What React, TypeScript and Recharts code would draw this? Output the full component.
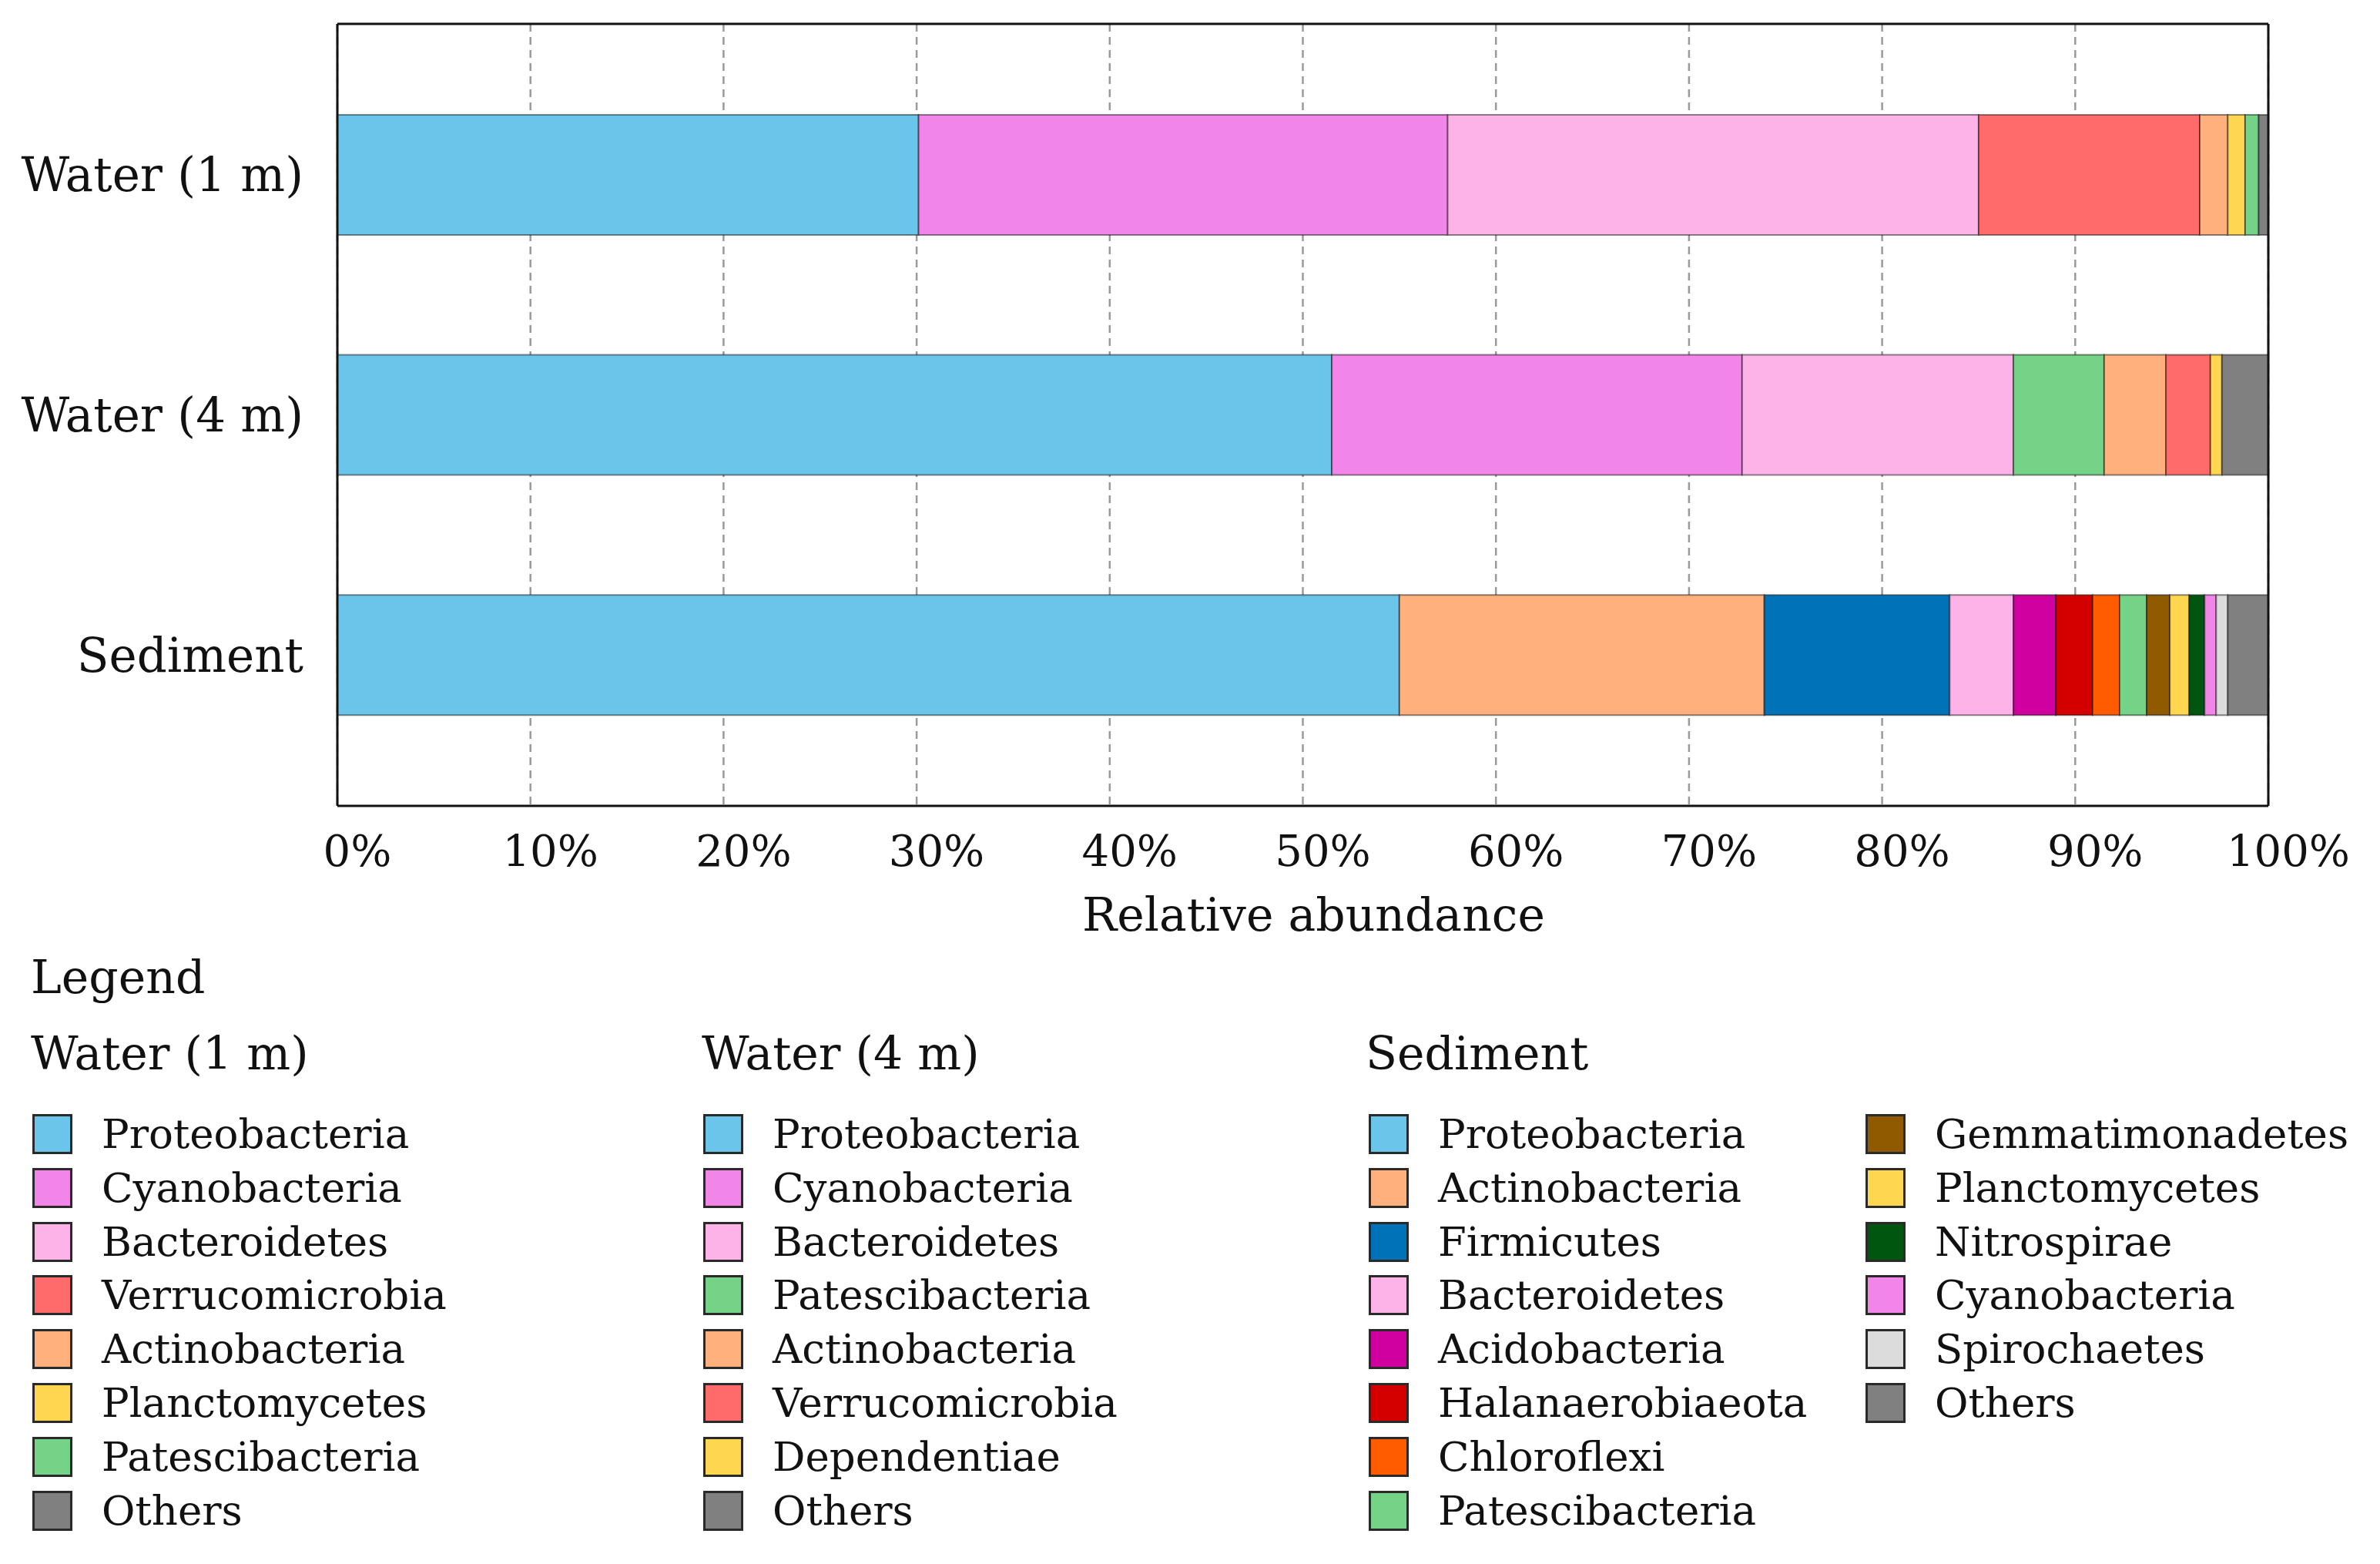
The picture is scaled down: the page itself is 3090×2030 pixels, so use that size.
import React from 'react';
import { BarChart, Bar, XAxis, YAxis, CartesianGrid, Cell } from 'recharts';

const categories = ['Water (1 m)', 'Water (4 m)', 'Sediment'];

const water1Taxa = ['Proteobacteria', 'Cyanobacteria', 'Bacteroidetes', 'Verrucomicrobia', 'Actinobacteria', 'Planctomycetes', 'Patescibacteria', 'Others'];
const water1Values = [30.1, 27.4, 27.5, 11.45, 1.45, 0.9, 0.7, 0.5];

const water4Taxa = ['Proteobacteria', 'Cyanobacteria', 'Bacteroidetes', 'Patescibacteria', 'Actinobacteria', 'Verrucomicrobia', 'Dependentiae', 'Others'];
const water4Values = [51.5, 21.25, 14.05, 4.7, 3.2, 2.3, 0.6, 2.4];

const sedimentTaxa = ['Proteobacteria', 'Actinobacteria', 'Firmicutes', 'Bacteroidetes', 'Acidobacteria', 'Halanaerobiaeota', 'Chloroflexi', 'Patescibacteria', 'Gemmatimonadetes', 'Planctomycetes', 'Nitrospirae', 'Cyanobacteria', 'Spirochaetes', 'Others'];
const sedimentValues = [55.0, 18.9, 9.6, 3.3, 2.2, 1.9, 1.4, 1.4, 1.2, 1.0, 0.8, 0.6, 0.6, 2.1];

const xTicks = [0, 10, 20, 30, 40, 50, 60, 70, 80, 90, 100];

const taxonColors: Record<string, string> = {
  Proteobacteria: '#6BC5EA',
  Cyanobacteria: '#F285E8',
  Bacteroidetes: '#FDB3E8',
  Verrucomicrobia: '#FF6B6B',
  Actinobacteria: '#FFB07C',
  Planctomycetes: '#FFD64F',
  Patescibacteria: '#74D386',
  Dependentiae: '#FFD64F',
  Firmicutes: '#0073B8',
  Acidobacteria: '#D000A0',
  Halanaerobiaeota: '#D40000',
  Chloroflexi: '#FF5C00',
  Gemmatimonadetes: '#8F5A00',
  Nitrospirae: '#00560E',
  Spirochaetes: '#DCDCDC',
  Others: '#808080',
};

const sampleTaxa = [water1Taxa, water4Taxa, sedimentTaxa];
const sampleValues = [water1Values, water4Values, sedimentValues];
const maxSeg = Math.max(...sampleTaxa.map((t) => t.length));
const segKeys = Array.from({ length: maxSeg }, (_, i) => `s${i}`);

const rows = categories.map((name, r) => {
  const row: Record<string, any> = { name };
  segKeys.forEach((k, i) => {
    row[k] = i < sampleValues[r].length ? sampleValues[r][i] : 0;
  });
  return row;
});

const FONT = '"DejaVu Serif", "Liberation Serif", serif';
const BORDER = { stroke: '#111', strokeWidth: 3 };

const LegendItem = ({ label, x, y }: { label: string; x: number; y: number }) => (
  <div style={{ position: 'absolute', left: x, top: y - 25, height: 50, display: 'flex', alignItems: 'center' }}>
    <div
      style={{
        width: 46,
        height: 46,
        background: taxonColors[label],
        border: '3px solid #2a2a2a',
        flex: 'none',
      }}
    />
    <div style={{ marginLeft: 38, fontSize: 53, color: '#111', whiteSpace: 'nowrap', lineHeight: '50px' }}>{label}</div>
  </div>
);

export default function App() {
  const rowY0 = 1472;
  const rowStep = 69.8;
  const sedCol1 = sedimentTaxa.slice(0, 8);
  const sedCol2 = sedimentTaxa.slice(8);
  const head = { position: 'absolute' as const, fontSize: 60, color: '#111', lineHeight: '64px' };
  return (
    <div
      style={{
        position: 'absolute',
        left: 0,
        top: 0,
        width: 3090,
        height: 2030,
        background: '#fff',
        fontFamily: FONT,
        overflow: 'hidden',
      }}
    >
      <BarChart
        width={3090}
        height={1250}
        data={rows}
        layout="vertical"
        margin={{ top: 30, right: 144, bottom: 24, left: 38 }}
        barCategoryGap="25%"
      >
        <CartesianGrid horizontal={false} vertical={true} stroke="#9a9a9a" strokeWidth={2.5} strokeDasharray="10 7" />
        <XAxis
          type="number"
          domain={[0, 100]}
          ticks={xTicks}
          tickFormatter={(v: number) => `${v}%`}
          axisLine={BORDER}
          tickLine={false}
          tickSize={0}
          tickMargin={38}
          height={180}
          tick={{ fontSize: 56, fill: '#111', fontFamily: FONT, dx: 26 }}
          label={{ value: 'Relative abundance', position: 'insideBottom', offset: 18, dx: 14, fontSize: 60, fill: '#111', fontFamily: FONT }}
          allowDataOverflow
        />
        <XAxis
          xAxisId="top"
          orientation="top"
          type="number"
          domain={[0, 100]}
          ticks={xTicks}
          height={1}
          tick={false}
          tickLine={false}
          axisLine={BORDER}
        />
        <YAxis
          type="category"
          dataKey="name"
          width={400}
          axisLine={BORDER}
          tickLine={false}
          tickSize={0}
          tickMargin={44}
          padding={{ top: 40, bottom: 40 }}
          tick={{ fontSize: 61, fill: '#111', fontFamily: FONT }}
        />
        <YAxis
          yAxisId="right"
          orientation="right"
          type="category"
          dataKey="name"
          width={1}
          tick={false}
          tickLine={false}
          axisLine={BORDER}
        />
        {segKeys.map((k, i) => (
          <Bar key={k} dataKey={k} stackId="a" isAnimationActive={false} stroke="rgba(0,0,0,0.45)" strokeWidth={2}>
            {rows.map((_, r) => (
              <Cell key={r} fill={i < sampleTaxa[r].length ? taxonColors[sampleTaxa[r][i]] : 'none'} />
            ))}
          </Bar>
        ))}
      </BarChart>

      <div style={{ ...head, left: 40, top: 1268 - 32 }}>Legend</div>
      <div style={{ ...head, left: 40, top: 1367 - 32 }}>Water (1 m)</div>
      <div style={{ ...head, left: 911, top: 1367 - 32 }}>Water (4 m)</div>
      <div style={{ ...head, left: 1773, top: 1367 - 32 }}>Sediment</div>

      {water1Taxa.map((t, i) => (
        <LegendItem key={`w1${t}`} label={t} x={42} y={rowY0 + i * rowStep} />
      ))}
      {water4Taxa.map((t, i) => (
        <LegendItem key={`w4${t}`} label={t} x={913} y={rowY0 + i * rowStep} />
      ))}
      {sedCol1.map((t, i) => (
        <LegendItem key={`s1${t}`} label={t} x={1777} y={rowY0 + i * rowStep} />
      ))}
      {sedCol2.map((t, i) => (
        <LegendItem key={`s2${t}`} label={t} x={2422} y={rowY0 + i * rowStep} />
      ))}
    </div>
  );
}
